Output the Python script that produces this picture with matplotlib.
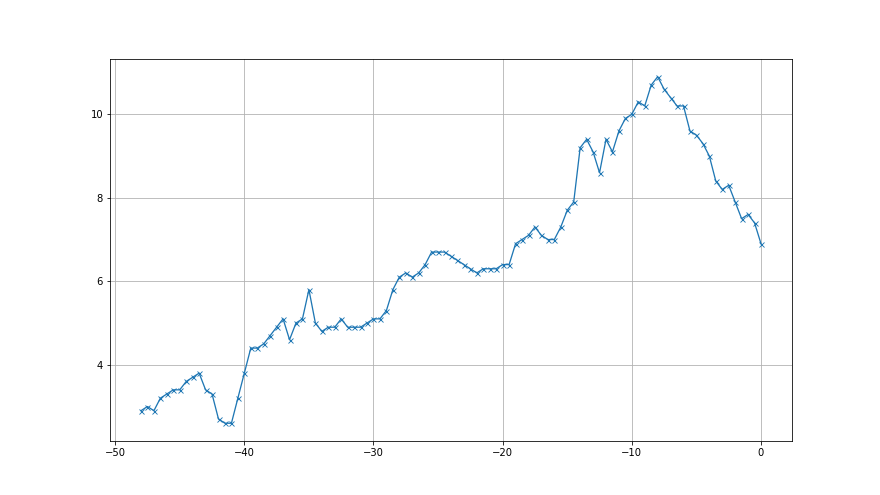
import matplotlib
matplotlib.use("Agg")
import matplotlib.pyplot as plt
import numpy as np

x_start = -48.0
x_step = 0.5
values = [
    2.9, 3.0, 2.9, 3.2, 3.3, 3.4, 3.4, 3.6, 3.7, 3.8,
    3.4, 3.3, 2.7, 2.6, 2.6, 3.2, 3.8, 4.4, 4.4, 4.5,
    4.7, 4.9, 5.1, 4.6, 5.0, 5.1, 5.8, 5.0, 4.8, 4.9,
    4.9, 5.1, 4.9, 4.9, 4.9, 5.0, 5.1, 5.1, 5.3, 5.8,
    6.1, 6.2, 6.1, 6.2, 6.4, 6.7, 6.7, 6.7, 6.6, 6.5,
    6.4, 6.3, 6.2, 6.3, 6.3, 6.3, 6.4, 6.4, 6.9, 7.0,
    7.1, 7.3, 7.1, 7.0, 7.0, 7.3, 7.7, 7.9, 9.2, 9.4,
    9.1, 8.6, 9.4, 9.1, 9.6, 9.9, 10.0, 10.3, 10.2, 10.7,
    10.9, 10.6, 10.4, 10.2, 10.2, 9.6, 9.5, 9.3, 9.0, 8.4,
    8.2, 8.3, 7.9, 7.5, 7.6, 7.4, 6.9,
]
x = [x_start + i * x_step for i in range(len(values))]

fig = plt.figure(figsize=(880 / 72, 495 / 72), dpi=72)
ax = fig.add_subplot(111)
ax.plot(x, values, marker="x", color="#1f77b4", linewidth=1.3,
        markersize=5, markeredgewidth=0.9)
ax.grid(True)
fig.savefig("out.png", dpi=72)
